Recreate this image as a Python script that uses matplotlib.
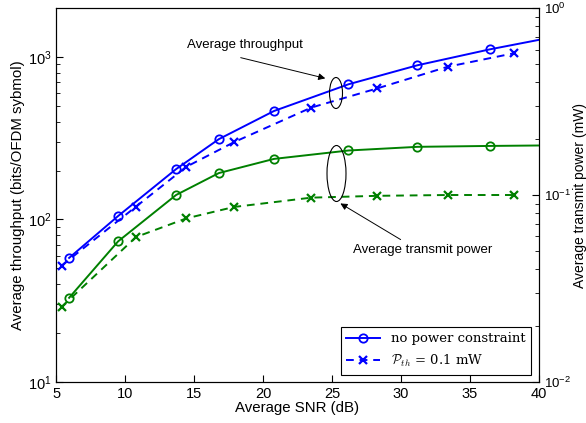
import numpy as np
import matplotlib
matplotlib.use("Agg")
from matplotlib import pyplot as plt
from matplotlib.patches import Ellipse

plt.rcParams['font.family'] = ['Liberation Sans', 'DejaVu Sans']
plt.rcParams['mathtext.fontset'] = 'cm'

# throughput (left axis), no power constraint
snr_circ = [5.95, 9.5, 13.7, 16.8, 20.8, 26.2, 31.2, 36.45, 40]
thr_circ = [58, 105, 204, 312, 465, 679, 889, 1114, 1274]
# transmit power (right axis), no power constraint
pow_circ = [0.0282, 0.0565, 0.100, 0.131, 0.156, 0.173, 0.181, 0.183, 0.184]

# P_th = 0.1 mW
snr_x = [5.4, 10.8, 14.45, 17.9, 23.5, 28.3, 33.4, 38.2]
thr_x = [52, 120, 211, 299, 488, 641, 871, 1054]
pow_x = [0.0252, 0.0596, 0.075, 0.0863, 0.0968, 0.099, 0.100, 0.100]

blue = (0, 0, 1)
green = (0, 0.5, 0)

fig = plt.figure(figsize=(5.86, 4.23), dpi=100)
ax = fig.add_axes([0.0956, 0.097, 0.824, 0.884])
ax2 = ax.twinx()

l1, = ax.plot(snr_circ, thr_circ, '-o', color=blue, lw=1.4, ms=6, mfc='none', mew=1.3,
              markevery=list(range(len(snr_circ) - 1)))
l2, = ax.plot(snr_x, thr_x, '--x', color=blue, lw=1.4, ms=6, mew=1.6, dashes=(4, 3))
ax2.plot(snr_circ, pow_circ, '-o', color=green, lw=1.4, ms=6, mfc='none', mew=1.3,
         markevery=list(range(len(snr_circ) - 1)))
ax2.plot(snr_x, pow_x, '--x', color=green, lw=1.4, ms=6, mew=1.6, dashes=(4, 3))

ax.set_xlim(5, 40)
ax.set_yscale('log')
ax.set_ylim(10, 2000)
ax2.set_yscale('log')
ax2.set_ylim(1e-2, 1)

for a in (ax, ax2):
    a.tick_params(which='both', direction='in', labelsize=10.5)
    a.tick_params(which='major', length=5)
    a.tick_params(which='minor', length=3)
ax2.tick_params(axis='y', labelsize=9.5, pad=4)
ax.tick_params(axis='y', which='both', right=False)
ax.set_xticks([5, 10, 15, 20, 25, 30, 35, 40])

ax.set_xlabel('Average SNR (dB)', fontsize=10.8, labelpad=0)
ax.set_ylabel('Average throughput (bits/OFDM sybmol)', fontsize=10.8, labelpad=2)
ax2.set_ylabel('Average transmit power (mW)', fontsize=10)
ax2.yaxis.set_label_coords(1.07, 0.5)

# ellipses grouping the curves
fig.patches.append(Ellipse((336 / 586, 1 - 93 / 423), 13 / 586, 31 / 423, transform=fig.transFigure,
                           fill=False, ec='k', lw=0.8))
fig.patches.append(Ellipse((336.5 / 586, 1 - 173.5 / 423), 19 / 586, 56 / 423, transform=fig.transFigure,
                           fill=False, ec='k', lw=0.8))

fig.text(245 / 586, 1 - 45 / 423, 'Average throughput', ha='center', va='center', fontsize=9.5)
ax.annotate('', xy=(328 / 586, 1 - 79 / 423), xycoords='figure fraction',
            xytext=(238 / 586, 1 - 57 / 423), textcoords='figure fraction',
            arrowprops=dict(arrowstyle='-|>', color='k', lw=0.7, mutation_scale=10))
fig.text(423 / 586, 1 - 250 / 423, 'Average transmit power', ha='center', va='center', fontsize=9.5)
ax.annotate('', xy=(338 / 586, 1 - 202 / 423), xycoords='figure fraction',
            xytext=(403 / 586, 1 - 241 / 423), textcoords='figure fraction',
            arrowprops=dict(arrowstyle='-|>', color='k', lw=0.7, mutation_scale=10))

leg = ax2.legend([l1, l2], ['no power constraint', r'$\mathcal{P}_{th}$ = 0.1 mW'],
                 loc='lower right', bbox_to_anchor=(0.997, 0.002), fancybox=False,
                 edgecolor='k', framealpha=1, handlelength=2.6,
                 prop={'family': 'DejaVu Serif', 'size': 9.5}, borderpad=0.4, labelspacing=0.6)
leg.get_frame().set_linewidth(0.8)

fig.savefig('out.png', dpi=100)
